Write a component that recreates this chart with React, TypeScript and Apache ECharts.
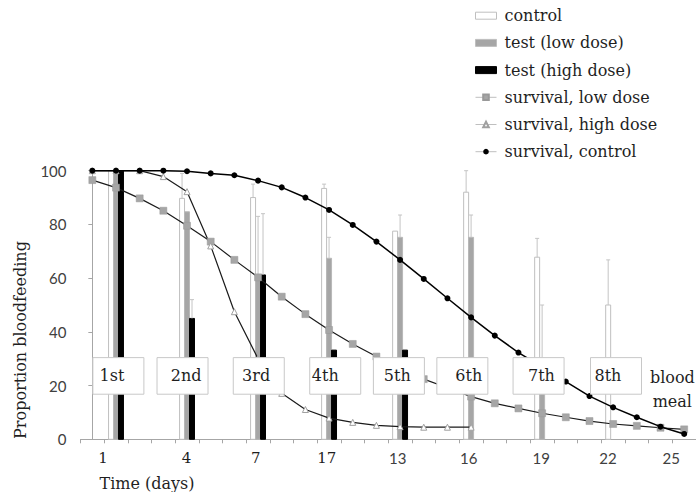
import React, { useEffect, useRef } from 'react';
import * as echarts from 'echarts';

// ---- data ----
const days = [0, 1, 2, 3, 4, 5, 6, 7, 8, 9, 10, 11, 12, 13, 14, 15, 16, 17, 18, 19, 20, 21, 22, 23, 24, 25];
const survivalControl = [100, 100, 100, 100, 99.8, 99, 98.3, 96.3, 93.8, 90, 85.4, 79.8, 73.6, 66.8, 59.7, 52.5, 45.4, 38.6, 32.3, 27, 21.5, 16.1, 11.9, 8.2, 4.7, 2];
const survivalLow = [96.5, 93.7, 89.7, 85.1, 79.5, 73.6, 66.8, 60.3, 53.1, 46.6, 40.7, 35.5, 30.8, 27, 22.4, 19.2, 15.9, 13.4, 11.5, 9.7, 8.2, 6.8, 5.7, 5, 4.3, 3.7];
const highDays = [0, 1, 2, 3, 4, 5, 6, 7, 8, 9, 10, 11, 12, 13, 14, 15, 16];
const survivalHigh = [100, 100, 100, 97.8, 92.2, 72, 47.5, 30, 17.1, 11.1, 7.9, 6.3, 5.2, 4.7, 4.5, 4.5, 4.5];

const barDays = [1, 4, 7, 10, 13, 16, 19, 22];
const controlBars = [100, 89.7, 90, 93.4, 77.5, 92, 67.8, 50];
const controlErr = [0, 9.3, 5, 1.6, 0, 8, 7, 16.8];
const lowBars = [100, 84.7, 61, 67.4, 75.2, 75.2, 25, 0];
const lowErr = [0, 0, 22, 7.8, 8.3, 8.3, 25, 0];
const highBars = [100, 45, 61.2, 33.2, 33.2, 0, 0, 0];
const highErr = [0, 7, 22.8, 0, 0, 0, 0, 0];

const mealLabels = ['1st', '2nd', '3rd', '4th', '5th', '6th', '7th', '8th'];
const mealBoxDays = [1.1, 3.81, 7.03, 10.26, 12.95, 15.63, 18.85, 22.12];
const mealTextDays = [0.83, 3.96, 6.92, 9.84, 12.88, 15.9, 18.97, 21.78];

const xTickLabels = ['1', '4', '7', '17', '13', '16', '19', '22', '25'];
const xTickPos = [0.45, 3.98, 6.9, 9.9, 12.9, 15.9, 18.96, 21.78, 24.45];
const serifTicks = ['1', '4', '7', '17'];

// ---- layout constants ----
const SERIF = '"DejaVu Serif", serif';
const SANS = 'Lato, "Open Sans", sans-serif';
const TEXT = '#1f1f1f';
const BAR_W = 0.21; // in days
const BOX_Y = 23.6;
const BOX_W = 51;
const BOX_H = 36.6;

function barSeries(name: string, values: number[], errs: number[], offset: number, fill: string, stroke: string) {
  return {
    type: 'custom',
    name,
    z: 2,
    itemStyle: { color: fill, borderColor: stroke },
    data: barDays.map((d, i) => [d, values[i], errs[i]]),
    renderItem: (params: any, api: any) => {
      const x = api.value(0) + offset * BAR_W;
      const v = api.value(1);
      const e = api.value(2);
      const children: any[] = [];
      if (v > 0) {
        const base = api.coord([x, 0]);
        const top = api.coord([x, v]);
        const w = api.size([BAR_W, 0])[0];
        children.push({
          type: 'rect',
          shape: { x: base[0] - w / 2, y: top[1], width: w, height: base[1] - top[1] },
          style: { fill, stroke, lineWidth: 1 },
        });
        if (e > 0) {
          const et = api.coord([x, v + e]);
          children.push({
            type: 'line',
            shape: { x1: top[0], y1: top[1], x2: et[0], y2: et[1] },
            style: { stroke: '#c4c4c4', lineWidth: 1 },
          });
          children.push({
            type: 'line',
            shape: { x1: et[0] - 2, y1: et[1], x2: et[0] + 2, y2: et[1] },
            style: { stroke: '#c4c4c4', lineWidth: 1 },
          });
        }
      }
      return { type: 'group', children };
    },
  };
}

export default function App() {
  const ref = useRef<HTMLDivElement>(null);
  useEffect(() => {
    if (!ref.current) return;
    const chart = echarts.init(ref.current, undefined, { renderer: 'svg' });
    const option: any = {
      animation: false,
      backgroundColor: '#ffffff',
      grid: { left: 80.5, right: 0, top: 170.7, bottom: 52.7 },
      legend: {
        orient: 'vertical',
        left: 475,
        top: 7.7,
        padding: 0,
        itemWidth: 21,
        itemHeight: 7,
        itemGap: 11.2,
        textStyle: { fontFamily: SERIF, fontSize: 16, color: TEXT, lineHeight: 16, padding: [0, 0, 0, 3] },
        data: [
          { name: 'control', icon: 'rect', itemStyle: { color: '#ffffff', borderColor: '#bfbfbf', borderWidth: 1 } },
          { name: 'test (low dose)', icon: 'rect', itemStyle: { color: '#a6a6a6', borderColor: '#bfbfbf', borderWidth: 1 } },
          { name: 'test (high dose)', icon: 'rect', itemStyle: { color: '#000000', borderColor: '#000000', borderWidth: 1 } },
          { name: 'survival, low dose', lineStyle: { color: '#bfbfbf', width: 1 } },
          { name: 'survival, high dose', lineStyle: { color: '#bfbfbf', width: 1 } },
          { name: 'survival, control', lineStyle: { color: '#bfbfbf', width: 1 } },
        ],
      },
      xAxis: {
        type: 'value',
        min: -0.5,
        max: 25.5,
        interval: 1,
        splitLine: { show: false },
        axisLine: { show: true, lineStyle: { color: '#a6a6a6', width: 1 } },
        axisTick: { show: true, length: 4, lineStyle: { color: '#a6a6a6' } },
        axisLabel: {
          customValues: xTickPos,
          margin: 11,
          formatter: (v: number) => {
            const i = xTickPos.findIndex((p) => Math.abs(p - v) < 1e-6);
            if (i < 0) return '';
            const t = xTickLabels[i];
            return serifTicks.includes(t) ? `{s|${t}}` : `{n|${t}}`;
          },
          rich: {
            s: { fontFamily: SERIF, fontSize: 15, color: TEXT },
            n: { fontFamily: SANS, fontSize: 15, color: '#404040' },
          },
        },
      },
      yAxis: {
        type: 'value',
        min: 0,
        max: 100,
        interval: 20,
        splitLine: { show: false },
        axisLine: { show: true, lineStyle: { color: '#a6a6a6', width: 1 } },
        axisTick: { show: true, length: 4, lineStyle: { color: '#a6a6a6' } },
        axisLabel: { fontFamily: SANS, fontSize: 15, color: '#404040', margin: 14 },
      },
      graphic: [
        {
          type: 'text',
          x: 20,
          y: 340,
          rotation: Math.PI / 2,
          style: { text: 'Proportion bloodfeeding', font: `16px ${SERIF}`, fill: TEXT, align: 'center', verticalAlign: 'middle' },
        },
        {
          type: 'text',
          x: 147,
          y: 483,
          style: { text: 'Time (days)', font: `16px ${SERIF}`, fill: TEXT, align: 'center', verticalAlign: 'middle' },
        },
      ],
      series: [
        barSeries('control', controlBars, controlErr, -1, '#ffffff', '#bfbfbf'),
        barSeries('test (low dose)', lowBars, lowErr, 0, '#a6a6a6', '#b8b8b8'),
        barSeries('test (high dose)', highBars, highErr, 1, '#000000', '#000000'),
        {
          type: 'line',
          name: 'survival, low dose',
          z: 3,
          data: days.map((d, i) => [d, survivalLow[i]]),
          symbol: 'rect',
          symbolSize: 7,
          itemStyle: { color: '#a6a6a6', borderColor: '#999999', borderWidth: 0.5 },
          lineStyle: { color: '#1a1a1a', width: 1.2 },
        },
        {
          type: 'line',
          name: 'survival, high dose',
          z: 3,
          data: highDays.map((d, i) => [d, survivalHigh[i]]),
          symbol: 'triangle',
          symbolSize: 6,
          itemStyle: { color: '#ffffff', borderColor: '#a0a0a0', borderWidth: 1 },
          lineStyle: { color: '#1a1a1a', width: 1.2 },
        },
        {
          type: 'line',
          name: 'survival, control',
          z: 4,
          data: days.map((d, i) => [d, survivalControl[i]]),
          symbol: 'circle',
          symbolSize: 6,
          itemStyle: { color: '#000000' },
          lineStyle: { color: '#000000', width: 1.5 },
        },
        {
          type: 'custom',
          name: 'meals',
          z: 10,
          data: mealLabels.map((t, i) => [mealBoxDays[i], mealTextDays[i], t]),
          renderItem: (params: any, api: any) => {
            const b = api.coord([api.value(0), BOX_Y]);
            const t = api.coord([api.value(1), BOX_Y]);
            const label = mealLabels[params.dataIndex];
            return {
              type: 'group',
              children: [
                {
                  type: 'rect',
                  shape: { x: b[0] - BOX_W / 2, y: b[1] - BOX_H / 2, width: BOX_W, height: BOX_H },
                  style: { fill: '#ffffff', stroke: '#c8c8c8', lineWidth: 1 },
                },
                {
                  type: 'text',
                  x: t[0],
                  y: t[1],
                  style: { text: label, font: `16px ${SERIF}`, fill: TEXT, align: 'center', verticalAlign: 'middle' },
                },
              ],
            };
          },
        },
        {
          type: 'custom',
          name: 'bloodmeal',
          z: 10,
          data: [[24.5, 18.4]],
          renderItem: (params: any, api: any) => {
            const p = api.coord([api.value(0), api.value(1)]);
            return {
              type: 'text',
              x: p[0],
              y: p[1],
              style: { text: 'blood\nmeal', font: `16px ${SERIF}`, lineHeight: 24, fill: TEXT, align: 'center', verticalAlign: 'middle' },
            };
          },
        },
      ],
    };
    chart.setOption(option);
    return () => chart.dispose();
  }, []);
  return <div ref={ref} style={{ position: 'absolute', left: 0, top: 0, width: 696, height: 492 }} />;
}
